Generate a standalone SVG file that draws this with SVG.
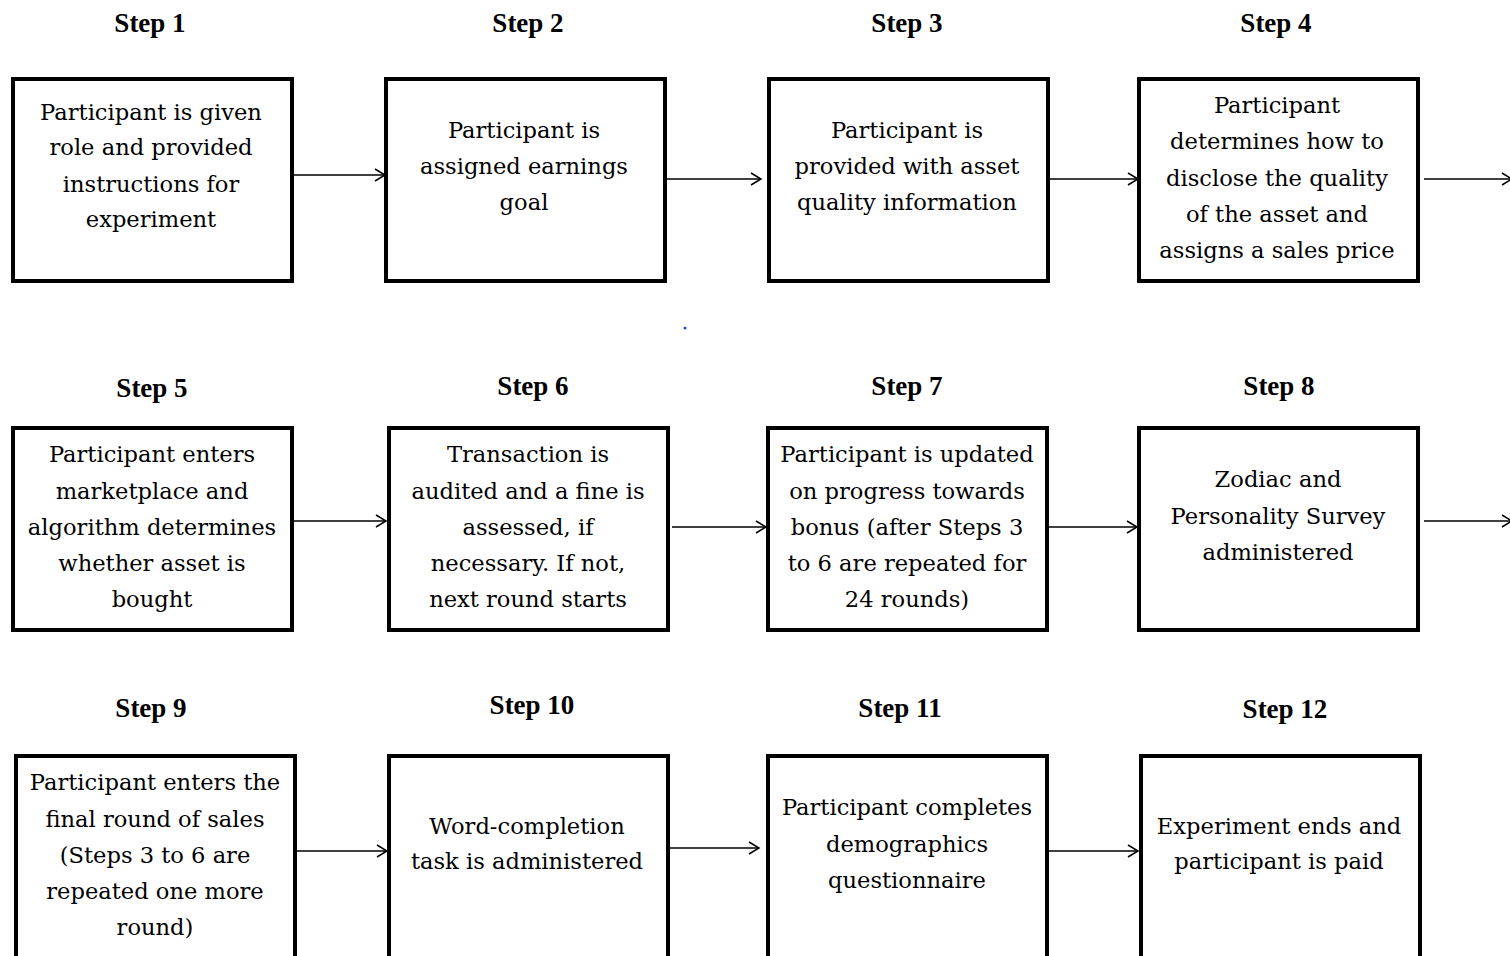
<svg xmlns="http://www.w3.org/2000/svg" width="1510" height="956" viewBox="0 0 1510 956">
<style>
.box{fill:#fff;stroke:#000;stroke-width:4}
.t{font-family:"DejaVu Serif","Liberation Serif",serif;font-size:22.6px;text-anchor:middle;fill:#000}
.s{font-family:"Liberation Serif","Times New Roman",serif;font-size:27px;font-weight:bold;text-anchor:middle;fill:#000}
.c{stroke:#000;stroke-width:1.5;fill:none}
</style>
<defs>
<marker id="a" markerWidth="14" markerHeight="14" refX="12" refY="7" orient="auto" markerUnits="userSpaceOnUse">
<path d="M2,1 L12,7 L2,13" fill="none" stroke="#000" stroke-width="1.5"/>
</marker>
</defs>
<rect width="1510" height="956" fill="#fff"/>
<g id="labels">
<text class="s" x="150" y="32">Step 1</text>
<text class="s" x="528" y="32">Step 2</text>
<text class="s" x="907" y="32">Step 3</text>
<text class="s" x="1276" y="32">Step 4</text>
<text class="s" x="152" y="397">Step 5</text>
<text class="s" x="533" y="395">Step 6</text>
<text class="s" x="907" y="395">Step 7</text>
<text class="s" x="1279" y="395">Step 8</text>
<text class="s" x="151" y="717">Step 9</text>
<text class="s" x="532" y="714">Step 10</text>
<text class="s" x="900" y="717">Step 11</text>
<text class="s" x="1285" y="718">Step 12</text>
</g>
<g id="connectors">
<line class="c" x1="292" y1="175" x2="385" y2="175" marker-end="url(#a)"/>
<line class="c" x1="665" y1="179" x2="761" y2="179" marker-end="url(#a)"/>
<line class="c" x1="1048" y1="179" x2="1138" y2="179" marker-end="url(#a)"/>
<line class="c" x1="1424" y1="179" x2="1512" y2="179" marker-end="url(#a)"/>
<line class="c" x1="292" y1="521" x2="386" y2="521" marker-end="url(#a)"/>
<line class="c" x1="672" y1="527" x2="766" y2="527" marker-end="url(#a)"/>
<line class="c" x1="1047" y1="527" x2="1137" y2="527" marker-end="url(#a)"/>
<line class="c" x1="1424" y1="521" x2="1512" y2="521" marker-end="url(#a)"/>
<line class="c" x1="296" y1="851" x2="387" y2="851" marker-end="url(#a)"/>
<line class="c" x1="665" y1="848" x2="759" y2="848" marker-end="url(#a)"/>
<line class="c" x1="1047" y1="851" x2="1138" y2="851" marker-end="url(#a)"/>
</g>
<g id="n1"><rect class="box" x="13" y="79" width="279" height="202"/>
<text class="t"><tspan x="151" y="120">Participant is given</tspan><tspan x="151" y="155">role and provided</tspan><tspan x="151" y="192">instructions for</tspan><tspan x="151" y="227">experiment</tspan></text></g>
<g id="n2"><rect class="box" x="386" y="79" width="279" height="202"/>
<text class="t"><tspan x="524" y="138">Participant is</tspan><tspan x="524" y="174">assigned earnings</tspan><tspan x="524" y="210">goal</tspan></text></g>
<g id="n3"><rect class="box" x="769" y="79" width="279" height="202"/>
<text class="t"><tspan x="907" y="138">Participant is</tspan><tspan x="907" y="174">provided with asset</tspan><tspan x="907" y="210">quality information</tspan></text></g>
<g id="n4"><rect class="box" x="1139" y="79" width="279" height="202"/>
<text class="t"><tspan x="1277" y="113">Participant</tspan><tspan x="1277" y="149">determines how to</tspan><tspan x="1277" y="186">disclose the quality</tspan><tspan x="1277" y="222">of the asset and</tspan><tspan x="1277" y="258">assigns a sales price</tspan></text></g>
<g id="n5"><rect class="box" x="13" y="428" width="279" height="202"/>
<text class="t"><tspan x="152" y="462">Participant enters</tspan><tspan x="152" y="499">marketplace and</tspan><tspan x="152" y="535">algorithm determines</tspan><tspan x="152" y="571">whether asset is</tspan><tspan x="152" y="607">bought</tspan></text></g>
<g id="n6"><rect class="box" x="389" y="428" width="279" height="202"/>
<text class="t"><tspan x="528" y="462">Transaction is</tspan><tspan x="528" y="499">audited and a fine is</tspan><tspan x="528" y="535">assessed, if</tspan><tspan x="528" y="571">necessary. If not,</tspan><tspan x="528" y="607">next round starts</tspan></text></g>
<g id="n7"><rect class="box" x="768" y="428" width="279" height="202"/>
<text class="t"><tspan x="907" y="462">Participant is updated</tspan><tspan x="907" y="499">on progress towards</tspan><tspan x="907" y="535">bonus (after Steps 3</tspan><tspan x="907" y="571">to 6 are repeated for</tspan><tspan x="907" y="607">24 rounds)</tspan></text></g>
<g id="n8"><rect class="box" x="1139" y="428" width="279" height="202"/>
<text class="t"><tspan x="1278" y="487">Zodiac and</tspan><tspan x="1278" y="524">Personality Survey</tspan><tspan x="1278" y="560">administered</tspan></text></g>
<g id="n9"><rect class="box" x="16" y="756" width="279" height="220"/>
<text class="t"><tspan x="155" y="790">Participant enters the</tspan><tspan x="155" y="827">final round of sales</tspan><tspan x="155" y="863">(Steps 3 to 6 are</tspan><tspan x="155" y="899">repeated one more</tspan><tspan x="155" y="935">round)</tspan></text></g>
<g id="n10"><rect class="box" x="389" y="756" width="279" height="220"/>
<text class="t"><tspan x="527" y="834">Word-completion</tspan><tspan x="527" y="869">task is administered</tspan></text></g>
<g id="n11"><rect class="box" x="768" y="756" width="279" height="220"/>
<text class="t"><tspan x="907" y="815">Participant completes</tspan><tspan x="907" y="852">demographics</tspan><tspan x="907" y="888">questionnaire</tspan></text></g>
<g id="n12"><rect class="box" x="1141" y="756" width="279" height="220"/>
<text class="t"><tspan x="1279" y="834">Experiment ends and</tspan><tspan x="1279" y="869">participant is paid</tspan></text></g>
<circle cx="685" cy="328" r="1.5" fill="#3344ee"/>
</svg>
